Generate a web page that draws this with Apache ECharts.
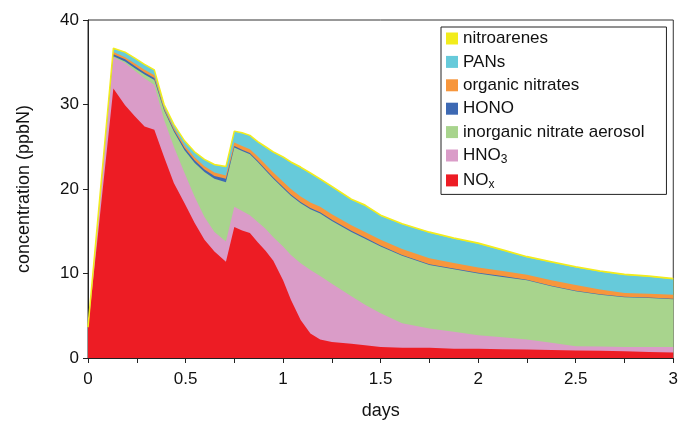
<!DOCTYPE html>
<html>
<head>
<meta charset="utf-8">
<script src="https://cdn.jsdelivr.net/npm/echarts@6/dist/echarts.min.js"></script>
<style>
html,body{margin:0;padding:0;background:#fff;}
#chart{width:681px;height:426px;}
</style>
</head>
<body>
<div id="chart"></div>
<script>
const days = [0, 0.13, 0.19, 0.24, 0.29, 0.34, 0.39, 0.44, 0.495, 0.546, 0.597, 0.648, 0.707, 0.75, 0.79, 0.83, 0.87, 0.91, 0.95, 1.0, 1.04, 1.09, 1.14, 1.19, 1.25, 1.35, 1.42, 1.5, 1.61, 1.75, 1.875, 2.0, 2.125, 2.25, 2.375, 2.5, 2.625, 2.75, 2.875, 3.0];
const nox = [3.5, 31.9, 29.9, 28.6, 27.4, 27.0, 23.8, 20.7, 18.3, 16.0, 14.0, 12.6, 11.4, 15.5, 15.1, 14.8, 13.7, 12.7, 11.5, 9.2, 6.9, 4.5, 2.9, 2.2, 1.9, 1.7, 1.5, 1.3, 1.2, 1.2, 1.1, 1.1, 1.05, 1.0, 0.95, 0.9, 0.85, 0.8, 0.7, 0.65];
const hno3 = [0.05, 3.7, 5.0, 5.4, 5.7, 5.3, 4.4, 4.3, 3.6, 3.1, 2.7, 2.3, 2.4, 2.4, 2.3, 2.1, 2.4, 2.6, 2.8, 4.0, 5.3, 6.7, 7.5, 7.5, 6.9, 5.6, 4.8, 4.0, 2.9, 2.3, 2.0, 1.6, 1.4, 1.2, 0.85, 0.5, 0.5, 0.5, 0.6, 0.65];
const inorganic = [0, 0.1, 0.2, 0.3, 0.45, 0.6, 1.1, 1.8, 2.7, 4.0, 5.3, 6.3, 7.0, 7.0, 7.1, 7.2, 7.1, 6.9, 6.9, 6.9, 7.0, 7.1, 7.2, 7.4, 7.4, 7.6, 7.8, 7.9, 8.0, 7.5, 7.4, 7.3, 7.15, 7.0, 6.7, 6.5, 6.15, 5.9, 5.8, 5.65];
const hono = [0.05, 0.25, 0.25, 0.25, 0.25, 0.25, 0.15, 0.2, 0.25, 0.3, 0.3, 0.35, 0.4, 0.2, 0.15, 0.15, 0.15, 0.15, 0.15, 0.15, 0.15, 0.15, 0.15, 0.15, 0.15, 0.15, 0.15, 0.1, 0.1, 0.1, 0.1, 0.1, 0.1, 0.05, 0.05, 0.05, 0.05, 0.05, 0.05, 0.05];
const orgNitrates = [0, 0.25, 0.25, 0.3, 0.3, 0.3, 0.2, 0.25, 0.3, 0.35, 0.4, 0.4, 0.4, 0.4, 0.45, 0.45, 0.5, 0.55, 0.6, 0.6, 0.65, 0.65, 0.65, 0.65, 0.65, 0.65, 0.65, 0.7, 0.7, 0.7, 0.65, 0.6, 0.6, 0.6, 0.65, 0.7, 0.55, 0.45, 0.45, 0.5];
const pans = [0.05, 0.4, 0.55, 0.6, 0.6, 0.6, 0.3, 0.35, 0.5, 0.6, 0.75, 0.9, 1.0, 1.3, 1.5, 1.6, 1.7, 2.0, 2.35, 2.85, 3.1, 3.4, 3.4, 3.2, 3.2, 3.0, 3.1, 2.8, 2.9, 3.0, 2.85, 2.8, 2.4, 2.05, 2.1, 2.05, 2.1, 2.1, 2.0, 1.8];
const nitroarenes = [0, 0.05, 0.05, 0.05, 0.05, 0.05, 0.05, 0.05, 0.05, 0.05, 0.05, 0.05, 0.05, 0.05, 0.05, 0.05, 0.05, 0.1, 0.1, 0.1, 0.1, 0.1, 0.1, 0.1, 0.1, 0.1, 0.1, 0.1, 0.1, 0.1, 0.1, 0.1, 0.1, 0.1, 0.1, 0.1, 0.1, 0.1, 0.1, 0.1];
const xTicks = [0, 0.5, 1, 1.5, 2, 2.5, 3];
const yTicks = [0, 10, 20, 30, 40];

// bottom-to-top stacking order
const seriesDefs = [
  {name: 'NOx', values: nox, color: '#ED1C24'},
  {name: 'HNO3', values: hno3, color: '#DA9CC8'},
  {name: 'inorganic nitrate aerosol', values: inorganic, color: '#A8D48D'},
  {name: 'HONO', values: hono, color: '#3D69B3'},
  {name: 'organic nitrates', values: orgNitrates, color: '#F7963C'},
  {name: 'PANs', values: pans, color: '#66CADA'},
  {name: 'nitroarenes', values: nitroarenes, color: '#F2EC1C'}
];
const legendOrder = ['nitroarenes', 'PANs', 'organic nitrates', 'HONO', 'inorganic nitrate aerosol', 'HNO3', 'NOx'];
const FONT = '"Liberation Sans", Arial, sans-serif';

// cumulative tops (stacked areas), drawn from the top layer downwards
const running = days.map(() => 0);
const stacked = seriesDefs.map(s => {
  const tops = s.values.map((v, i) => (running[i] = +(running[i] + v).toFixed(4)));
  return Object.assign({}, s, {tops: tops});
});
const drawOrder = stacked.slice().reverse();

const chart = echarts.init(document.getElementById('chart'), null, {renderer: 'canvas'});
chart.setOption({
  animation: false,
  backgroundColor: '#fff',
  grid: {left: 88, right: 5, top: 20, bottom: 68, show: true, borderColor: '#333', borderWidth: 1, backgroundColor: 'transparent'},
  legend: {
    orient: 'vertical', left: 441, top: 27,
    padding: [3, 22, 4, 5], itemGap: 6.4,
    itemWidth: 12, itemHeight: 12,
    backgroundColor: '#fff', borderColor: '#222', borderWidth: 1, borderRadius: 0,
    data: legendOrder.map(n => ({name: n, icon: 'rect'})),
    formatter: function (name) {
      if (name === 'HNO3') return '{n|HNO}{s|3}';
      if (name === 'NOx') return '{n|NO}{s|x}';
      return '{n|' + name + '}';
    },
    textStyle: {
      fontFamily: FONT, color: '#111',
      rich: {
        n: {fontFamily: FONT, fontSize: 17, color: '#111', lineHeight: 20},
        s: {fontFamily: FONT, fontSize: 12, color: '#111', lineHeight: 12, verticalAlign: 'bottom'}
      }
    }
  },
  xAxis: {
    type: 'value', min: 0, max: 3, interval: 0.5,
    name: 'days', nameLocation: 'middle', nameGap: 44,
    nameTextStyle: {fontFamily: FONT, fontSize: 18, color: '#111'},
    axisLine: {show: true, onZero: false, lineStyle: {color: '#222', width: 1}},
    axisTick: {show: true, inside: false, length: 5, lineStyle: {color: '#222'}},
    minorTick: {show: true, splitNumber: 2, length: 5, lineStyle: {color: '#222'}},
    axisLabel: {fontFamily: FONT, fontSize: 17, color: '#111', margin: 13,
      formatter: v => xTicks.includes(v) ? String(v) : ''},
    splitLine: {show: false}
  },
  yAxis: {
    type: 'value', min: 0, max: 40, interval: 10,
    name: 'concentration (ppbN)', nameLocation: 'middle', nameGap: 55, nameRotate: 90,
    nameTextStyle: {fontFamily: FONT, fontSize: 18, color: '#111'},
    axisLine: {show: true, lineStyle: {color: '#222', width: 1}},
    axisTick: {show: true, inside: false, length: 5, lineStyle: {color: '#222'}},
    axisLabel: {fontFamily: FONT, fontSize: 17, color: '#111', margin: 9,
      formatter: v => yTicks.includes(v) ? String(v) : ''},
    splitLine: {show: false}
  },
  series: drawOrder.map(s => ({
    name: s.name, type: 'line',
    data: days.map((d, i) => [d, s.tops[i]]),
    showSymbol: false, symbol: 'none', smooth: false,
    color: s.color,
    itemStyle: {color: s.color},
    lineStyle: s.name === 'nitroarenes' ? {color: s.color, width: 1.5} : {width: 0, color: s.color},
    areaStyle: {color: s.color, opacity: 1}
  }))
});
</script>
</body>
</html>
